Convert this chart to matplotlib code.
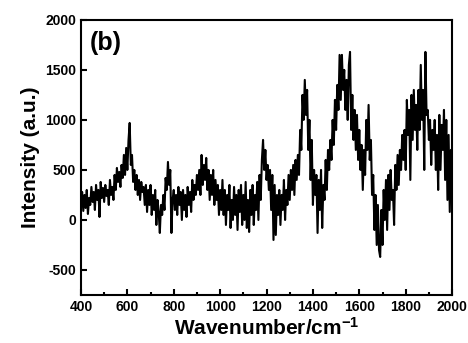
import numpy as np
import matplotlib
matplotlib.use('Agg')
import matplotlib.pyplot as plt
from matplotlib.ticker import MultipleLocator

plt.rcParams['font.family'] = ['Liberation Sans', 'DejaVu Sans']
plt.rcParams['font.weight'] = 'bold'
plt.rcParams['axes.unicode_minus'] = False
plt.rcParams['mathtext.fontset'] = 'custom'
plt.rcParams['mathtext.bf'] = 'Liberation Sans:bold'
plt.rcParams['mathtext.rm'] = 'Liberation Sans:bold'
plt.rcParams['mathtext.default'] = 'bf'

# Raman spectrum, one value every 5 cm-1
wavenumber = np.arange(400, 2001, 5)
intensity = [
    # 400-495
    150, 280, 90, 250, 120, 300, 60, 220, 150, 330,
    180, 280, 100, 350, 200, 300, 30, 380, 220, 320,
    # 500-595
    180, 350, 240, 300, 150, 400, 250, 330, 200, 450,
    300, 520, 380, 480, 330, 550, 420, 650, 450, 720,
    # 600-695
    500, 800, 970, 550, 650, 380, 500, 300, 450, 250,
    400, 200, 380, 280, 330, 150, 350, 80, 300, 150,
    # 700-795
    350, 50, 250, 100, 300, -50, 200, 80, -130, 150,
    50, 250, 100, 420, 300, 580, 350, 500, -130, 200,
    # 800-895
    300, 100, 250, 50, 330, 150, 280, 0, 300, 100,
    250, 30, 330, 150, 280, 80, 400, 200, 350, 250,
    # 900-995
    450, 300, 500, 250, 650, 350, 550, 400, 620, 300,
    500, 200, 450, 250, 500, 150, 400, 200, 350, 50,
    # 1000-1095
    300, 100, 400, 50, 300, -50, 250, 100, 350, -80,
    200, 0, 330, 50, 250, -100, 300, 80, 350, -50,
    # 1100-1195
    250, 0, 380, -80, 200, -120, 300, 50, 350, -50,
    250, 100, 380, 0, 450, 200, 600, 800, 500, 700,
    # 1200-1295
    400, 550, 300, 500, 100, 450, -200, 350, -150, 250,
    50, 300, -50, 250, 100, 400, 0, 300, 150, 450,
    # 1300-1395
    200, 500, 300, 550, 250, 600, 400, 650, 450, 900,
    700, 1250, 1000, 1400, 1050, 1300, 700, 1000, 400, 800,
    # 1400-1495
    150, 500, 250, 450, -130, 400, 100, 500, -80, 350,
    200, 600, 300, 700, 500, 800, 600, 1000, 750, 1200,
    # 1500-1595
    900, 1350, 1100, 1650, 1200, 1650, 1300, 1500, 1100, 1400,
    1000, 1550, 1680, 900, 1250, 800, 1100, 700, 1050, 600,
    # 1600-1695
    900, 500, 750, 300, 700, 450, 1000, 700, 1150, 600,
    800, 250, 450, -100, 250, -250, 150, -300, -370, 100,
    # 1700-1795
    -250, 300, 0, 400, -100, 450, 100, 500, 200, 300,
    -50, 550, 300, 650, 350, 700, 500, 850, 600, 900,
    # 1800-1895
    500, 1200, 850, 1100, 400, 1250, 800, 1300, 900, 1150,
    700, 1300, 900, 1550, 1000, 1300, 500, 1680, 1050, 1100,
    # 1900-2000
    800, 1000, 550, 900, 700, 1000, 500, 850, 300, 1050,
    500, 950, 700, 1100, 400, 1000, 200, 850, 80, 700,
    600,
]

x_ticks = [400, 600, 800, 1000, 1200, 1400, 1600, 1800, 2000]
y_ticks = [-500, 0, 500, 1000, 1500, 2000]

fig = plt.figure(figsize=(4.68, 3.43), dpi=100)
ax = fig.add_axes([0.173, 0.140, 0.793, 0.802])
ax.plot(wavenumber, intensity, color='black', lw=1.5)

ax.set_xlim(400, 2000)
ax.set_ylim(-750, 2000)
ax.set_xticks(x_ticks)
ax.set_yticks(y_ticks)
ax.xaxis.set_minor_locator(MultipleLocator(100))
ax.tick_params(which='both', direction='in', top=False, right=False,
               labelsize=10, width=1.5)
ax.tick_params(which='major', length=4)
ax.tick_params(which='minor', length=2.5)
for lab in ax.get_xticklabels() + ax.get_yticklabels():
    lab.set_fontweight('bold')
for sp in ax.spines.values():
    sp.set_linewidth(1.5)

ax.set_xlabel('Wavenumber/cm$^{-1}$', fontsize=15, fontweight='bold', labelpad=2)
ax.set_ylabel('Intensity (a.u.)', fontsize=15, fontweight='bold', labelpad=4)
ax.text(0.025, 0.96, '(b)', transform=ax.transAxes, fontsize=18,
        fontweight='bold', va='top', ha='left')

fig.savefig('out.png', dpi=100)
